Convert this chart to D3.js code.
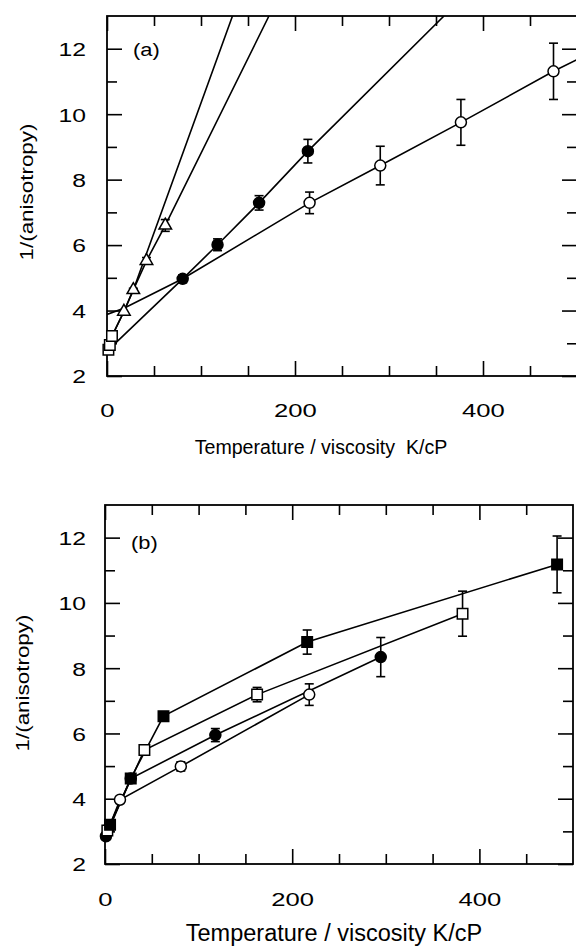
<!DOCTYPE html>
<html><head><meta charset="utf-8">
<script src="https://cdn.jsdelivr.net/npm/d3@7"></script>
<style>
body{margin:0;background:#fff}
svg{display:block}
text{font-family:"Liberation Sans",Arial,sans-serif;fill:#000}
</style>
</head><body>
<svg id="c" width="576" height="947"></svg>
<script>
// ---------- shared axis data ----------
const xDomain = [0, 500];
const yDomain = [2, 13];
const xMajorTicks = [0, 200, 400];
const xMinorTicks = [50, 100, 150, 250, 300, 350, 450];
const yMajorTicks = [2, 4, 6, 8, 10, 12];
const yMinorTicks = [3, 5, 7, 9, 11];
const yTitle = "1/(anisotropy)";
const xTitleA = "Temperature / viscosity  K/cP";
const xTitleB = "Temperature / viscosity K/cP";

// ---------- panel (a) ----------
const aSquareX = [1.5, 3, 5.3];
const aSquareY = [2.8, 2.95, 3.22];
const aTriX = [18, 28, 42, 62];
const aTriY = [3.97, 4.63, 5.52, 6.6];
const aTriErr = [0, 0.05, 0.1, 0.18];
const aFillCircX = [80.5, 117.6, 161.8, 213.7];
const aFillCircY = [4.97, 6.01, 7.29, 8.87];
const aFillCircErr = [0.12, 0.18, 0.22, 0.36];
const aOpenCircX = [215.5, 290.7, 376.5, 475];
const aOpenCircY = [7.29, 8.43, 9.75, 11.31];
const aOpenCircErr = [0.33, 0.59, 0.7, 0.86];
// connecting lines (vertices)
const aLineSteepX = [5.3, 18, 28, 133.5];
const aLineSteepY = [3.22, 3.97, 4.63, 13];
const aLineTriX = [5.3, 18, 28, 42, 62, 172.3];
const aLineTriY = [3.22, 3.97, 4.63, 5.52, 6.6, 13];
const aLineFillX = [1.5, 80.5, 117.6, 161.8, 213.7, 358.5];
const aLineFillY = [2.8, 4.97, 6.01, 7.29, 8.87, 13];
const aLineOpenX = [0, 18, 80.5, 215.5, 290.7, 376.5, 475, 500];
const aLineOpenY = [3.88, 4.07, 4.97, 7.29, 8.43, 9.75, 11.31, 11.67];

// ---------- panel (b) ----------
const bOpenCircX = [4, 16, 81, 218.2];
const bOpenCircY = [3.1, 3.97, 4.99, 7.19];
const bOpenCircErr = [0, 0, 0.14, 0.33];
const bFillCircX = [1, 27.5, 117.9, 294.6];
const bFillCircY = [2.85, 4.62, 5.95, 8.34];
const bFillCircErr = [0, 0, 0.2, 0.6];
const bOpenSqX = [2.5, 42.1, 162.5, 382];
const bOpenSqY = [3.03, 5.49, 7.19, 9.67];
const bOpenSqErr = [0, 0, 0.22, 0.69];
const bFillSqX = [5.4, 27.5, 62.5, 216, 483];
const bFillSqY = [3.2, 4.62, 6.53, 8.8, 11.18];
const bFillSqErr = [0, 0, 0.1, 0.37, 0.87];

const svg = d3.select("#c");
const zip = (xs, ys, es) => xs.map((v, i) => ({x: v, y: ys[i], e: es ? es[i] : 0}));

function makePanel(cfg) {
  const g = svg.append("g");
  const x = d3.scaleLinear().domain(xDomain).range([cfg.left, cfg.right]);
  const y = d3.scaleLinear().domain(yDomain).range([cfg.bottom, cfg.top]);
  const clipId = "clip" + cfg.id;
  svg.append("clipPath").attr("id", clipId).append("rect")
    .attr("x", cfg.left).attr("y", cfg.top)
    .attr("width", cfg.right - cfg.left).attr("height", cfg.bottom - cfg.top);

  const strip = sel => sel.select(".domain").remove();
  // bottom
  g.append("g").attr("transform", `translate(0,${cfg.bottom})`)
    .call(d3.axisBottom(x).tickValues(xMinorTicks).tickSize(-10).tickFormat(""))
    .call(strip);
  const bx = g.append("g").attr("transform", `translate(0,${cfg.bottom})`)
    .call(d3.axisBottom(x).tickValues(xMajorTicks).tickSize(-15).tickFormat(d3.format("d")))
    .call(strip);
  bx.selectAll("text").attr("y", cfg.xLabDy).attr("dy", "0.35em")
    .attr("transform", "scale(1.35,1)").style("font-size", "19px");
  // top
  g.append("g").attr("transform", `translate(0,${cfg.top})`)
    .call(d3.axisTop(x).tickValues(xMinorTicks).tickSize(-10).tickFormat("")).call(strip);
  g.append("g").attr("transform", `translate(0,${cfg.top})`)
    .call(d3.axisTop(x).tickValues(xMajorTicks).tickSize(-15).tickFormat("")).call(strip);
  // left
  g.append("g").attr("transform", `translate(${cfg.left},0)`)
    .call(d3.axisLeft(y).tickValues(yMinorTicks).tickSize(-10).tickFormat("")).call(strip);
  const ly = g.append("g").attr("transform", `translate(${cfg.left},0)`)
    .call(d3.axisLeft(y).tickValues(yMajorTicks).tickSize(-15).tickFormat(d3.format("d")))
    .call(strip);
  ly.selectAll("text").attr("x", -cfg.yLabGap / 1.3).attr("dy", "0.36em")
    .attr("transform", "scale(1.3,1)").style("font-size", "19px");
  // right
  g.append("g").attr("transform", `translate(${cfg.right},0)`)
    .call(d3.axisRight(y).tickValues(yMinorTicks).tickSize(-10).tickFormat("")).call(strip);
  g.append("g").attr("transform", `translate(${cfg.right},0)`)
    .call(d3.axisRight(y).tickValues(yMajorTicks).tickSize(-15).tickFormat("")).call(strip);
  g.selectAll(".tick line").attr("stroke", "#000").attr("stroke-width", 1.6);

  g.append("rect").attr("x", cfg.left).attr("y", cfg.top)
    .attr("width", cfg.right - cfg.left).attr("height", cfg.bottom - cfg.top)
    .attr("fill", "none").attr("stroke", "#000").attr("stroke-width", 1.8);

  // titles
  g.append("text").attr("x", cfg.xTitleX).attr("y", cfg.xTitleY)
    .attr("text-anchor", "middle").style("white-space", "pre")
    .style("font-size", cfg.xTitleSize + "px").text(cfg.xTitle);
  g.append("text")
    .attr("transform", `translate(${cfg.yTitleX},${cfg.yTitleY}) rotate(-90) scale(1.18,1)`)
    .attr("text-anchor", "middle").style("font-size", "19px").text(yTitle);
  g.append("text").attr("transform", `translate(${cfg.left + 26},${cfg.panelLabY}) scale(1.15,1)`)
    .style("font-size", "19px").text(cfg.label);

  const plot = g.append("g").attr("clip-path", `url(#${clipId})`);
  const line = d3.line().x(d => x(d.x)).y(d => y(d.y));
  return {g, x, y, plot, line};
}

function drawLine(P, xs, ys) {
  P.plot.append("path").datum(zip(xs, ys)).attr("d", P.line)
    .attr("fill", "none").attr("stroke", "#000").attr("stroke-width", 1.6);
}
function drawErr(P, data) {
  const d = data.filter(p => p.e > 0);
  const eg = P.g.append("g").attr("stroke", "#000").attr("stroke-width", 1.6);
  eg.selectAll("line.v").data(d).join("line")
    .attr("x1", p => P.x(p.x)).attr("x2", p => P.x(p.x))
    .attr("y1", p => P.y(p.y - p.e)).attr("y2", p => P.y(p.y + p.e));
  [1, -1].forEach(s => {
    eg.selectAll(null).data(d).join("line")
      .attr("x1", p => P.x(p.x) - 4.5).attr("x2", p => P.x(p.x) + 4.5)
      .attr("y1", p => P.y(p.y + s * p.e)).attr("y2", p => P.y(p.y + s * p.e));
  });
}
function drawMarkers(P, data, type, filled) {
  const sym = {circle: d3.symbolCircle, square: d3.symbolSquare, triangle: d3.symbolTriangle}[type];
  const size = {circle: 95, square: 110, triangle: 68}[type];
  P.g.append("g").selectAll("path").data(data).join("path")
    .attr("transform", p => `translate(${P.x(p.x)},${P.y(p.y)})`)
    .attr("d", d3.symbol(sym, size))
    .attr("fill", filled ? "#000" : "#fff").attr("stroke", "#000").attr("stroke-width", 1.5);
}

// ---------- panel (a) ----------
const A = makePanel({id: "a", left: 107, right: 577, top: 16, bottom: 376,
  xLabDy: 34, yLabGap: 21, xTitle: xTitleA, xTitleX: 321, xTitleY: 454, xTitleSize: 19.6,
  yTitleX: 33, yTitleY: 192, label: "(a)", panelLabY: 56});
drawLine(A, aLineSteepX, aLineSteepY);
drawLine(A, aLineTriX, aLineTriY);
drawLine(A, aLineFillX, aLineFillY);
drawLine(A, aLineOpenX, aLineOpenY);
const aTri = zip(aTriX, aTriY, aTriErr), aFC = zip(aFillCircX, aFillCircY, aFillCircErr),
      aOC = zip(aOpenCircX, aOpenCircY, aOpenCircErr), aSq = zip(aSquareX, aSquareY);
drawErr(A, aTri); drawErr(A, aFC); drawErr(A, aOC);
drawMarkers(A, aSq, "square", false);
drawMarkers(A, aTri, "triangle", false);
drawMarkers(A, aOC, "circle", false);
drawMarkers(A, aFC, "circle", true);

// ---------- panel (b) ----------
const B = makePanel({id: "b", left: 105, right: 573, top: 505, bottom: 864,
  xLabDy: 35, yLabGap: 19, xTitle: xTitleB, xTitleX: 334, xTitleY: 941, xTitleSize: 23.5,
  yTitleX: 29, yTitleY: 683, label: "(b)", panelLabY: 549});
const bOC = zip(bOpenCircX, bOpenCircY, bOpenCircErr), bFC = zip(bFillCircX, bFillCircY, bFillCircErr),
      bOS = zip(bOpenSqX, bOpenSqY, bOpenSqErr), bFS = zip(bFillSqX, bFillSqY, bFillSqErr);
drawLine(B, bOpenCircX, bOpenCircY);
drawLine(B, bFillCircX, bFillCircY);
drawLine(B, bOpenSqX, bOpenSqY);
drawLine(B, bFillSqX, bFillSqY);
drawErr(B, bOC); drawErr(B, bFC); drawErr(B, bOS); drawErr(B, bFS);
drawMarkers(B, bOC, "circle", false);
drawMarkers(B, bFC, "circle", true);
drawMarkers(B, bOS, "square", false);
drawMarkers(B, bFS, "square", true);
</script>
</body></html>
